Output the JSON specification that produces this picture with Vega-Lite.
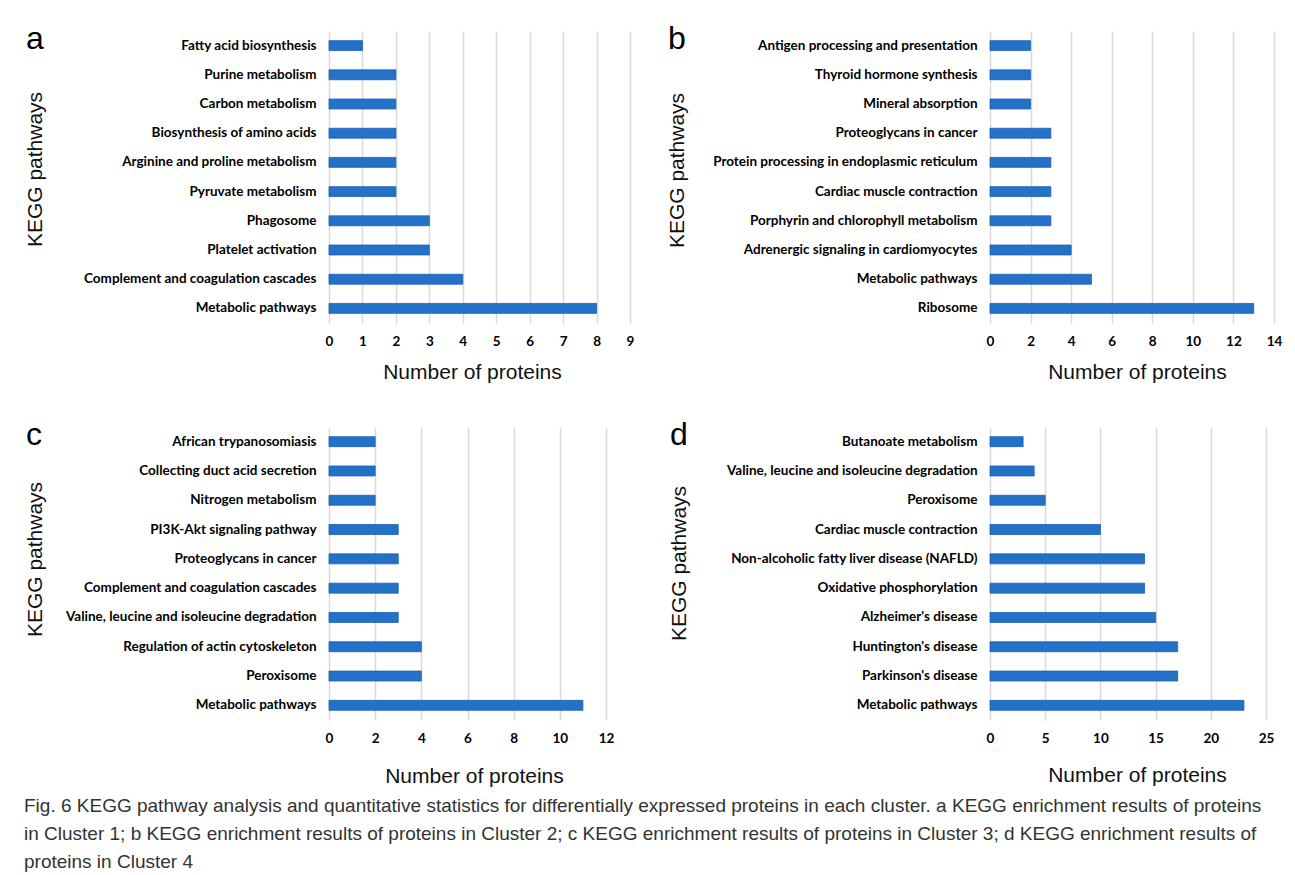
{
  "$schema": "https://vega.github.io/schema/vega-lite/v6.json",
  "padding": {"left": 24, "top": 23, "right": 5, "bottom": 5},
  "background": "white",
  "bounds": "flush",
  "datasets": {
    "kegg": [
      {"panel": "a", "rank": 1, "pathway": "Fatty acid biosynthesis", "count": 1},
      {"panel": "a", "rank": 2, "pathway": "Purine metabolism", "count": 2},
      {"panel": "a", "rank": 3, "pathway": "Carbon metabolism", "count": 2},
      {"panel": "a", "rank": 4, "pathway": "Biosynthesis of amino acids", "count": 2},
      {"panel": "a", "rank": 5, "pathway": "Arginine and proline metabolism", "count": 2},
      {"panel": "a", "rank": 6, "pathway": "Pyruvate metabolism", "count": 2},
      {"panel": "a", "rank": 7, "pathway": "Phagosome", "count": 3},
      {"panel": "a", "rank": 8, "pathway": "Platelet activation", "count": 3},
      {"panel": "a", "rank": 9, "pathway": "Complement and coagulation cascades", "count": 4},
      {"panel": "a", "rank": 10, "pathway": "Metabolic pathways", "count": 8},
      {"panel": "b", "rank": 1, "pathway": "Antigen processing and presentation", "count": 2},
      {"panel": "b", "rank": 2, "pathway": "Thyroid hormone synthesis", "count": 2},
      {"panel": "b", "rank": 3, "pathway": "Mineral absorption", "count": 2},
      {"panel": "b", "rank": 4, "pathway": "Proteoglycans in cancer", "count": 3},
      {"panel": "b", "rank": 5, "pathway": "Protein processing in endoplasmic reticulum", "count": 3},
      {"panel": "b", "rank": 6, "pathway": "Cardiac muscle contraction", "count": 3},
      {"panel": "b", "rank": 7, "pathway": "Porphyrin and chlorophyll metabolism", "count": 3},
      {"panel": "b", "rank": 8, "pathway": "Adrenergic signaling in cardiomyocytes", "count": 4},
      {"panel": "b", "rank": 9, "pathway": "Metabolic pathways", "count": 5},
      {"panel": "b", "rank": 10, "pathway": "Ribosome", "count": 13},
      {"panel": "c", "rank": 1, "pathway": "African trypanosomiasis", "count": 2},
      {"panel": "c", "rank": 2, "pathway": "Collecting duct acid secretion", "count": 2},
      {"panel": "c", "rank": 3, "pathway": "Nitrogen metabolism", "count": 2},
      {"panel": "c", "rank": 4, "pathway": "PI3K-Akt signaling pathway", "count": 3},
      {"panel": "c", "rank": 5, "pathway": "Proteoglycans in cancer", "count": 3},
      {"panel": "c", "rank": 6, "pathway": "Complement and coagulation cascades", "count": 3},
      {"panel": "c", "rank": 7, "pathway": "Valine, leucine and isoleucine degradation", "count": 3},
      {"panel": "c", "rank": 8, "pathway": "Regulation of actin cytoskeleton", "count": 4},
      {"panel": "c", "rank": 9, "pathway": "Peroxisome", "count": 4},
      {"panel": "c", "rank": 10, "pathway": "Metabolic pathways", "count": 11},
      {"panel": "d", "rank": 1, "pathway": "Butanoate metabolism", "count": 3},
      {"panel": "d", "rank": 2, "pathway": "Valine, leucine and isoleucine degradation", "count": 4},
      {"panel": "d", "rank": 3, "pathway": "Peroxisome", "count": 5},
      {"panel": "d", "rank": 4, "pathway": "Cardiac muscle contraction", "count": 10},
      {"panel": "d", "rank": 5, "pathway": "Non-alcoholic fatty liver disease (NAFLD)", "count": 14},
      {"panel": "d", "rank": 6, "pathway": "Oxidative phosphorylation", "count": 14},
      {"panel": "d", "rank": 7, "pathway": "Alzheimer's disease", "count": 15},
      {"panel": "d", "rank": 8, "pathway": "Huntington's disease", "count": 17},
      {"panel": "d", "rank": 9, "pathway": "Parkinson's disease", "count": 17},
      {"panel": "d", "rank": 10, "pathway": "Metabolic pathways", "count": 23}
    ]
  },
  "data": {"name": "kegg"},
  "title": {
    "text": [
      "Fig. 6  KEGG pathway analysis and quantitative statistics for differentially expressed proteins in each cluster. a KEGG enrichment results of proteins",
      "in Cluster 1; b KEGG enrichment results of proteins in Cluster 2; c KEGG enrichment results of proteins in Cluster 3; d KEGG enrichment results of",
      "proteins in Cluster 4"
    ],
    "orient": "bottom",
    "anchor": "start",
    "frame": "bounds",
    "font": "Liberation Sans",
    "fontSize": 19,
    "fontWeight": "normal",
    "color": "#333333",
    "lineHeight": 28,
    "offset": -20,
    "dx": 0,
    "dy": 31
  },
  "columns": 2,
  "spacing": {"row": 104, "column": 360},
  "concat": [
    {
      "width": 301, "height": 292,
      "title": {"text": "a"},
      "transform": [{"filter": "datum.panel === 'a'"}],
      "mark": {"type": "bar", "color": "#2472c8", "stroke": "#1d5fb0", "strokeWidth": 0.8},
      "encoding": {
        "y": {"field": "pathway", "type": "nominal", "sort": {"field": "rank", "op": "min", "order": "ascending"},
              "scale": {"paddingInner": 0.66, "paddingOuter": 0.33},
              "axis": {"title": "KEGG pathways", "titleX": -294, "titleY": 138}},
        "x": {"field": "count", "type": "quantitative", "scale": {"domain": [0, 9], "nice": false},
              "axis": {"values": [0, 1, 2, 3, 4, 5, 6, 7, 8, 9], "title": "Number of proteins", "titleX": 143, "titleY": 55}}
      }
    },
    {
      "width": 284, "height": 292,
      "title": {"text": "b"},
      "transform": [{"filter": "datum.panel === 'b'"}],
      "mark": {"type": "bar", "color": "#2472c8", "stroke": "#1d5fb0", "strokeWidth": 0.8},
      "encoding": {
        "y": {"field": "pathway", "type": "nominal", "sort": {"field": "rank", "op": "min", "order": "ascending"},
              "scale": {"paddingInner": 0.66, "paddingOuter": 0.33},
              "axis": {"title": "KEGG pathways", "titleX": -313, "titleY": 139}},
        "x": {"field": "count", "type": "quantitative", "scale": {"domain": [0, 14], "nice": false},
              "axis": {"values": [0, 2, 4, 6, 8, 10, 12, 14], "title": "Number of proteins", "titleX": 147, "titleY": 55}}
      }
    },
    {
      "width": 277, "height": 293,
      "title": {"text": "c"},
      "transform": [{"filter": "datum.panel === 'c'"}],
      "mark": {"type": "bar", "color": "#2472c8", "stroke": "#1d5fb0", "strokeWidth": 0.8},
      "encoding": {
        "y": {"field": "pathway", "type": "nominal", "sort": {"field": "rank", "op": "min", "order": "ascending"},
              "scale": {"paddingInner": 0.66, "paddingOuter": 0.33},
              "axis": {"title": "KEGG pathways", "titleX": -294, "titleY": 132}},
        "x": {"field": "count", "type": "quantitative", "scale": {"domain": [0, 12], "nice": false},
              "axis": {"values": [0, 2, 4, 6, 8, 10, 12], "title": "Number of proteins", "titleX": 145, "titleY": 62}}
      }
    },
    {
      "width": 276, "height": 293,
      "title": {"text": "d"},
      "transform": [{"filter": "datum.panel === 'd'"}],
      "mark": {"type": "bar", "color": "#2472c8", "stroke": "#1d5fb0", "strokeWidth": 0.8},
      "encoding": {
        "y": {"field": "pathway", "type": "nominal", "sort": {"field": "rank", "op": "min", "order": "ascending"},
              "scale": {"paddingInner": 0.66, "paddingOuter": 0.33},
              "axis": {"title": "KEGG pathways", "titleX": -311, "titleY": 136}},
        "x": {"field": "count", "type": "quantitative", "scale": {"domain": [0, 25], "nice": false},
              "axis": {"values": [0, 5, 10, 15, 20, 25], "title": "Number of proteins", "titleX": 147, "titleY": 61}}
      }
    }
  ],
  "config": {
    "view": {"stroke": null},
    "font": "Liberation Sans",
    "title": {"anchor": "start", "frame": "bounds", "font": "Liberation Sans", "fontSize": 32, "fontWeight": "normal", "baseline": "alphabetic", "offset": 0, "dy": 29, "dx": 2, "color": "#000000"},
    "axis": {
      "domain": false,
      "ticks": false,
      "labelFont": "Lato",
      "labelFontWeight": "bold",
      "labelFontSize": 13.5,
      "labelColor": "#000000",
      "labelLimit": 400,
      "titleFont": "Liberation Sans",
      "titleFontWeight": "normal",
      "titleFontSize": 21,
      "titleColor": "#111111"
    },
    "axisY": {"grid": false, "labelPadding": 13, "titleAngle": -90, "titleBaseline": "middle", "titleAlign": "center"},
    "axisX": {"grid": true, "gridColor": "#d9d9d9", "gridWidth": 1.5, "labelPadding": 11, "labelFlush": false, "titleAlign": "center", "titleBaseline": "alphabetic"}
  }
}
